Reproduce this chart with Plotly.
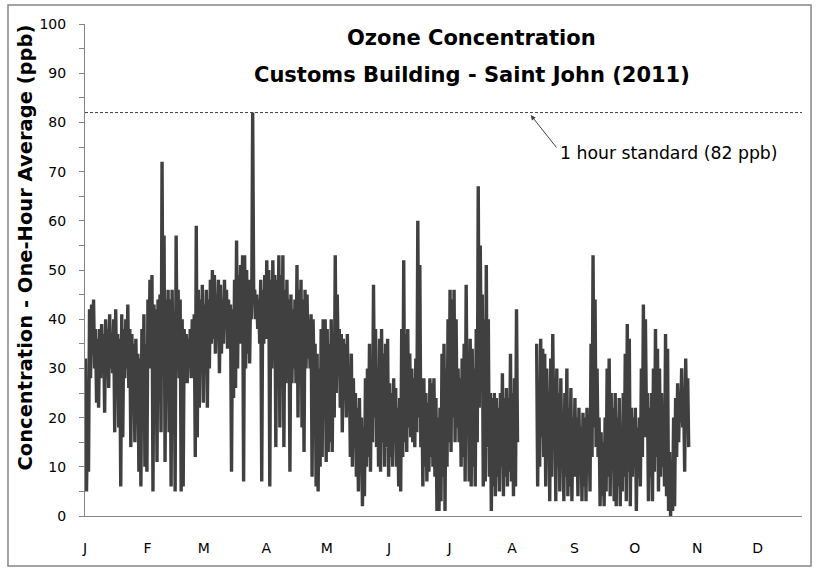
import plotly.graph_objects as go

# Daily (high, low) pairs of one-hour ozone averages (ppb)
jan = [32,5, 20,9, 42,28, 43,33, 44,30, 38,23, 36,22, 38,28, 39,30, 37,21,
       40,32, 38,26, 41,30, 37,29, 40,17, 42,25, 37,18, 36,6, 41,16, 38,28,
       40,30, 43,26, 38,14, 37,28, 35,15, 36,24, 33,9, 32,6, 38,20, 41,10, 35,9]
feb = [44,30, 48,35, 49,5, 43,30, 42,11, 44,32, 45,17, 72,30, 57,11, 44,25,
       46,17, 44,6, 46,30, 41,5, 57,30, 46,28, 44,5, 40,6, 38,30, 37,27,
       36,32, 38,28, 40,30, 41,12, 59,16, 46,22, 44,29, 47,23]
mar = [43,33, 46,22, 44,30, 48,35, 50,36, 49,33, 45,38, 48,29, 47,33, 44,35,
       48,38, 46,34, 44,36, 43,9, 42,24, 48,26, 56,30, 49,35, 51,38, 53,7,
       53,30, 50,33, 48,31, 47,40, 82,45, 46,40, 45,38, 44,35, 48,7, 46,35, 49,36]
apr = [52,38, 50,6, 48,30, 52,38, 49,14, 48,30, 53,18, 49,30, 53,14, 46,27,
       48,30, 44,9, 45,27, 42,30, 44,27, 51,20, 46,30, 48,18, 44,13, 46,30,
       45,32, 40,30, 41,8, 40,28, 35,6, 33,5, 30,10, 38,12, 40,20, 40,11]
may = [38,13, 35,15, 40,13, 36,20, 53,25, 45,30, 38,22, 37,17, 36,24, 35,20,
       37,23, 30,12, 33,10, 28,14, 25,8, 22,5, 24,9, 20,2, 18,4, 28,10,
       30,12, 35,9, 31,15, 47,20, 38,14, 30,10, 36,9, 38,15, 33,10, 35,14, 36,8]
jun = [27,12, 25,10, 28,15, 26,10, 22,6, 24,5, 38,12, 52,15, 37,13, 38,18,
       33,16, 30,15, 28,14, 32,17, 60,20, 51,14, 26,6, 28,10, 25,7, 23,9,
       28,12, 27,10, 28,8, 24,1, 20,1, 22,3, 33,8, 35,1, 30,10, 40,15]
jul = [46,13, 44,20, 46,15, 40,18, 30,15, 28,10, 32,12, 35,7, 47,20, 33,7,
       36,6, 34,10, 30,6, 38,15, 67,22, 55,30, 45,6, 40,7, 51,14, 40,8,
       25,1, 24,6, 25,4, 24,8, 22,5, 25,10, 29,4, 24,8, 26,6, 24,9, 33,7]
aug = [25,4, 28,6, 42,15, None,None, None,None, None,None, None,None, None,None,
       None,None, None,None, None,None, None,None, 35,6, 27,10, 36,16, 34,12,
       33,6, 30,16, 25,3, 32,8, 37,18, 28,3, 30,10, 25,5, 28,12, 20,3,
       25,8, 30,4, 22,6, 26,3, 20,8]
sep = [24,8, 20,4, 22,10, 18,3, 21,6, 20,3, 22,10, 19,5, 35,12, 53,18,
       44,14, 30,12, 20,2, 17,4, 15,2, 20,5, 30,8, 32,4, 25,10, 22,3,
       25,2, 20,6, 24,2, 18,5, 25,8, 33,3, 39,9, 36,2, 22,8, 20,10]
oct_ = [22,1, 18,8, 20,6, 30,12, 43,16, 40,20, 25,3, 22,8, 25,3, 30,9,
        38,12, 34,5, 30,8, 25,10, 20,6, 37,4, 34,1, 13,0, 10,1, 20,2,
        24,12, 27,15, 25,19, 30,18, 24,9, 32,20, 28,14]

month_starts = [0, 31, 59, 90, 120, 151, 181, 212, 243, 273, 304, 334]
month_labels = ["J", "F", "M", "A", "M", "J", "J", "A", "S", "O", "N", "D"]
standard_ppb = 82

values = jan + feb + mar + apr + may + jun + jul + aug + sep + oct_
days = [i * 0.5 + 0.25 for i in range(len(values))]

FONT = "DejaVu Sans"
GREY = "#868686"

fig = go.Figure()
fig.add_trace(go.Scatter(x=days, y=values, mode="lines",
                         line=dict(color="#404040", width=3.4),
                         connectgaps=False, showlegend=False, hoverinfo="skip"))

fig.add_shape(type="line", xref="paper", x0=0, x1=1, yref="y",
              y0=standard_ppb, y1=standard_ppb,
              line=dict(color="#404040", width=1, dash="3px,2px"))

# chart border
fig.add_shape(type="rect", xref="paper", yref="paper",
              x0=-0.1074, x1=1.0126, y0=-0.1016, y1=1.0386,
              line=dict(color=GREY, width=1.5))

fig.add_annotation(xref="paper", yref="paper", x=0.5397, y=(516 - 38) / 492,
                   xanchor="center", yanchor="middle",
                   text="<b>Ozone Concentration</b>", showarrow=False,
                   font=dict(family=FONT, size=21, color="black"))
fig.add_annotation(xref="paper", yref="paper", x=0.5397, y=(516 - 75) / 492,
                   xanchor="center", yanchor="middle",
                   text="<b>Customs Building - Saint John (2011)</b>", showarrow=False,
                   font=dict(family=FONT, size=21, color="black"))

fig.add_annotation(xref="paper", yref="paper", x=(24.5 - 85) / 717, y=(516 - 248) / 492,
                   xanchor="center", yanchor="middle",
                   text="<b>Concentration - One-Hour Average (ppb)</b>",
                   textangle=-90, showarrow=False,
                   font=dict(family=FONT, size=19.5, color="black"))

# label and arrow for the standard
fig.add_annotation(x=221.3, y=81.5, text="", showarrow=True,
                   ax=27, ay=34, arrowhead=2, arrowsize=1, arrowwidth=1,
                   arrowcolor="#404040")
fig.add_annotation(xref="paper", yref="paper", x=(558 - 85) / 717, y=(516 - 153) / 492,
                   xanchor="left", yanchor="middle",
                   text="1 hour standard (82 ppb)", showarrow=False,
                   font=dict(family=FONT, size=17.3, color="black"))

fig.update_layout(
    width=816, height=568,
    margin=dict(l=85, r=14, t=24, b=52),
    paper_bgcolor="white", plot_bgcolor="white",
    font=dict(family=FONT, size=14, color="black"),
    xaxis=dict(range=[0, 356], tickmode="array", tickvals=month_starts,
               ticktext=month_labels, showgrid=False, zeroline=False,
               showline=True, linecolor=GREY, linewidth=1, ticks="",
               ticklabelstandoff=19, tickfont=dict(family=FONT, size=14)),
    yaxis=dict(range=[0, 100], dtick=10, showgrid=False, zeroline=False,
               showline=True, linecolor=GREY, linewidth=1,
               ticks="outside", ticklen=5, tickcolor=GREY,
               minor=dict(dtick=5, ticks="outside", ticklen=5, tickcolor=GREY),
               ticklabelstandoff=10, tickfont=dict(family=FONT, size=14)),
)

fig.write_html("out.html", config={"displayModeBar": False},
               post_script="document.body.style.margin='0px';")
